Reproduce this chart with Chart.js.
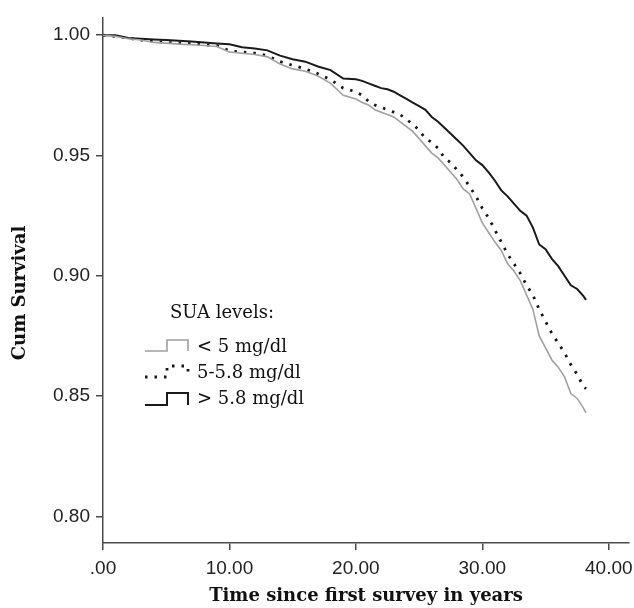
<!DOCTYPE html>
<html>
<head>
<meta charset="utf-8">
<script src="https://cdn.jsdelivr.net/npm/chart.js@4/dist/chart.umd.min.js"></script>
<style>
  body { margin: 0; background: #fff; }
</style>
</head>
<body>
<canvas id="survChart" width="634" height="608"></canvas>
<script>
// follow-up time (years) at which the curves were read
const years = [0, 1, 2, 3, 4, 5, 6, 7, 8, 9, 10, 11, 12, 13, 14, 15, 16, 17, 18, 19, 20,
    20.5, 21, 21.5, 22, 22.5, 23, 23.5, 24, 24.5, 25, 25.5, 26, 26.5, 27, 27.5, 28, 28.5, 29, 29.5, 30,
    30.5, 31, 31.5, 32, 32.5, 33, 33.5, 34, 34.5, 35, 35.5, 36, 36.5, 37, 37.5, 38, 38.2];

const survLow = [1.000, 0.9995, 0.9985, 0.998, 0.997, 0.9967, 0.9963, 0.996, 0.9957, 0.9953, 0.993,
    0.9925, 0.992, 0.991, 0.988, 0.986, 0.985, 0.983, 0.980, 0.975, 0.9735,
    0.972, 0.971, 0.969, 0.968, 0.967, 0.966, 0.964, 0.962, 0.960, 0.957,
    0.954, 0.951, 0.949, 0.946, 0.943, 0.940, 0.936, 0.934, 0.928, 0.922,
    0.918, 0.914, 0.9105, 0.905, 0.902, 0.898, 0.892, 0.886, 0.875, 0.870,
    0.865, 0.862, 0.858, 0.851, 0.849, 0.845, 0.843];

const survMid = [1.000, 0.9995, 0.9987, 0.998, 0.9975, 0.997, 0.9967, 0.9965, 0.996, 0.9957, 0.9935,
    0.993, 0.9925, 0.9915, 0.989, 0.9875, 0.986, 0.984, 0.9815, 0.978, 0.9765,
    0.975, 0.9725, 0.971, 0.970, 0.969, 0.968, 0.967, 0.965, 0.963, 0.9605,
    0.957, 0.9555, 0.953, 0.949, 0.947, 0.944, 0.941, 0.937, 0.933, 0.928,
    0.924, 0.919, 0.914, 0.909, 0.905, 0.901, 0.896, 0.892, 0.886, 0.881,
    0.876, 0.872, 0.868, 0.863, 0.859, 0.854, 0.853];

const survHigh = [1.000, 1.000, 0.9988, 0.9985, 0.9982, 0.998, 0.9977, 0.9974, 0.997, 0.9966, 0.9962,
    0.995, 0.9945, 0.9937, 0.9915, 0.990, 0.989, 0.987, 0.9855, 0.982, 0.9817,
    0.981, 0.980, 0.979, 0.978, 0.9775, 0.9765, 0.975, 0.9735, 0.972, 0.9705,
    0.969, 0.966, 0.964, 0.9615, 0.959, 0.9565, 0.954, 0.951, 0.948, 0.946,
    0.943, 0.9395, 0.9355, 0.933, 0.930, 0.927, 0.925, 0.920, 0.913, 0.911,
    0.907, 0.904, 0.900, 0.896, 0.8945, 0.8915, 0.890];

const groupLabels = ['< 5 mg/dl', '5-5.8 mg/dl', '> 5.8 mg/dl'];
const xTicks = [0, 10, 20, 30, 40];
const yTicks = [0.80, 0.85, 0.90, 0.95, 1.00];

const axisColor = '#4a4a4a';
const tickFont = { family: 'Liberation Sans', size: 19 };

function toPoints(vals) {
    return vals.map((v, i) => ({ x: years[i], y: v }));
}

// legend box + y title drawn straight on the canvas
const legendPlugin = {
    id: 'insideLegend',
    afterDraw(chart) {
        const ctx = chart.ctx;
        ctx.save();
        ctx.fillStyle = '#111';
        ctx.textBaseline = 'middle';
        ctx.font = '18px "DejaVu Serif"';
        ctx.textAlign = 'center';
        ctx.fillText('SUA levels:', 222, 313);

        const rows = [[340, 351, 347], [366, 377, 373], [393, 405, 399]];
        chart.data.datasets.forEach((ds, i) => {
            const [t, b, ty] = rows[i];
            ctx.beginPath();
            ctx.strokeStyle = ds.borderColor;
            ctx.lineWidth = ds.borderWidth;
            ctx.setLineDash(ds.borderDash || []);
            ctx.moveTo(145, b);
            ctx.lineTo(167, b);
            ctx.lineTo(167, t);
            ctx.lineTo(188, t);
            ctx.lineTo(188, b);
            ctx.stroke();
            ctx.setLineDash([]);
            ctx.textAlign = 'left';
            ctx.fillText(ds.label, 197, ty);
        });

        ctx.translate(20, 293);
        ctx.rotate(-Math.PI / 2);
        ctx.textAlign = 'center';
        ctx.font = 'bold 18px "DejaVu Serif"';
        ctx.fillText('Cum Survival', 0, 0);
        ctx.restore();
    }
};

const chart = new Chart(document.getElementById('survChart').getContext('2d'), {
    type: 'line',
    data: {
        datasets: [
            {
                label: groupLabels[0],
                data: toPoints(survLow),
                borderColor: '#a0a0a0',
                borderWidth: 1.6,
            },
            {
                label: groupLabels[1],
                data: toPoints(survMid),
                borderColor: '#151515',
                borderWidth: 2.8,
                borderDash: [2.5, 7],
            },
            {
                label: groupLabels[2],
                data: toPoints(survHigh),
                borderColor: '#1a1a1a',
                borderWidth: 2,
            }
        ]
    },
    options: {
        responsive: false,
        animation: false,
        devicePixelRatio: 1,
        layout: { padding: { top: 14, right: 5, left: 0, bottom: 0 } },
        elements: { point: { radius: 0 }, line: { tension: 0 } },
        plugins: {
            legend: { display: false },
            tooltip: { enabled: false }
        },
        scales: {
            x: {
                type: 'linear',
                min: 0,
                max: 41.6,
                afterBuildTicks: (scale) => { scale.ticks = xTicks.map(v => ({ value: v })); },
                afterFit: (scale) => {
                    scale.height = 65;
                    scale.paddingLeft = 0;
                    scale.paddingRight = 0;
                },
                border: { color: axisColor, width: 1.5 },
                grid: { drawOnChartArea: false, drawTicks: true, tickLength: 7, color: axisColor, lineWidth: 1.5 },
                ticks: {
                    font: tickFont,
                    color: '#222',
                    padding: 7,
                    maxRotation: 0,
                    callback: (v) => v === 0 ? '.00' : v.toFixed(2)
                },
                title: {
                    display: true,
                    text: 'Time since first survey in years',
                    font: { family: 'DejaVu Serif', size: 18, weight: 'bold' },
                    color: '#111',
                    padding: { top: 0, bottom: 1 }
                }
            },
            y: {
                min: 0.7889,
                max: 1.0074,
                afterBuildTicks: (scale) => { scale.ticks = yTicks.map(v => ({ value: v })); },
                afterFit: (scale) => { scale.width = 103; },
                border: { color: axisColor, width: 1.5 },
                grid: { drawOnChartArea: false, drawTicks: true, tickLength: 7, color: axisColor, lineWidth: 1.5 },
                ticks: {
                    font: tickFont,
                    color: '#222',
                    padding: 6,
                    callback: (v) => v.toFixed(2)
                }
            }
        }
    },
    plugins: [legendPlugin]
});
</script>
</body>
</html>
